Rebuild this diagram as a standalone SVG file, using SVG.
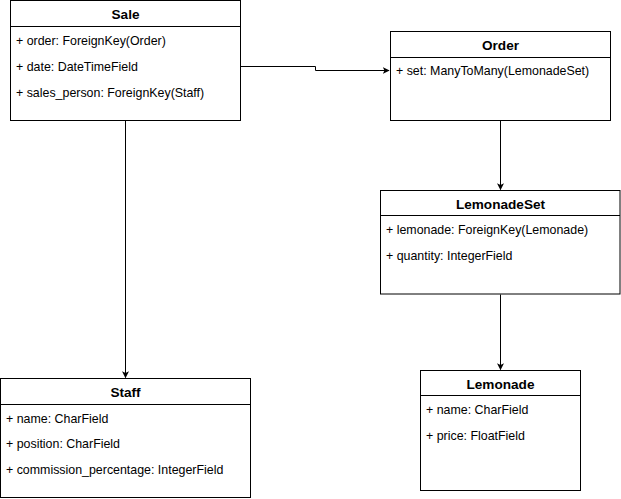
<svg xmlns="http://www.w3.org/2000/svg" width="621" height="499" viewBox="0 0 621 499">
<style>
.box{fill:#fff;stroke:#000;stroke-width:1}
.div{stroke:#000;stroke-width:1}
.t{font-family:"Liberation Sans",Arial,sans-serif;font-size:12.4px;fill:#000}
.h{font-family:"Liberation Sans",Arial,sans-serif;font-size:13.6px;font-weight:bold;fill:#000;text-anchor:middle}
.c{fill:none;stroke:#000;stroke-width:1}
</style>
<defs>
<marker id="arr" viewBox="0 0 10 10" refX="9" refY="5" markerWidth="7" markerHeight="7" markerUnits="userSpaceOnUse" orient="auto">
<path d="M0,0 L10,5 L0,10 L2.5,5 Z" fill="#000"/>
</marker>
</defs>
<rect width="621" height="499" fill="#fff"/>
<g id="connectors">
<path class="c" d="M240.5,66.5 H315.5 V70.5 H389" marker-end="url(#arr)"/>
<path class="c" d="M125.5,120.5 V377.5" marker-end="url(#arr)"/>
<path class="c" d="M500.5,120.5 V189.5" marker-end="url(#arr)"/>
<path class="c" d="M500.5,294.5 V369.5" marker-end="url(#arr)"/>
</g>
<g id="Sale">
<rect class="box" x="10.5" y="0.5" width="230" height="120"/>
<line class="div" x1="10.5" y1="26.5" x2="240.5" y2="26.5"/>
<text class="h" x="125.5" y="19">Sale</text>
<text class="t" x="16" y="45">+ order: ForeignKey(Order)</text>
<text class="t" x="16" y="71">+ date: DateTimeField</text>
<text class="t" x="16" y="97">+ sales_person: ForeignKey(Staff)</text>
</g>
<g id="Order">
<rect class="box" x="390.5" y="31.5" width="220" height="89"/>
<line class="div" x1="390.5" y1="57.5" x2="610.5" y2="57.5"/>
<text class="h" x="500.5" y="50">Order</text>
<text class="t" x="396" y="75">+ set: ManyToMany(LemonadeSet)</text>
</g>
<g id="LemonadeSet">
<rect class="box" x="380.5" y="190.5" width="239.5" height="103.5"/>
<line class="div" x1="380.5" y1="215.5" x2="620" y2="215.5"/>
<text class="h" x="500.5" y="209">LemonadeSet</text>
<text class="t" x="386" y="234">+ lemonade: ForeignKey(Lemonade)</text>
<text class="t" x="386" y="260">+ quantity: IntegerField</text>
</g>
<g id="Staff">
<rect class="box" x="0.5" y="378.5" width="250" height="119"/>
<line class="div" x1="0.5" y1="404.5" x2="250.5" y2="404.5"/>
<text class="h" x="125.5" y="397">Staff</text>
<text class="t" x="6" y="423">+ name: CharField</text>
<text class="t" x="6" y="448">+ position: CharField</text>
<text class="t" x="6" y="474">+ commission_percentage: IntegerField</text>
</g>
<g id="Lemonade">
<rect class="box" x="420.5" y="370.5" width="160" height="120"/>
<line class="div" x1="420.5" y1="395.5" x2="580.5" y2="395.5"/>
<text class="h" x="500.5" y="389">Lemonade</text>
<text class="t" x="426" y="414">+ name: CharField</text>
<text class="t" x="426" y="440">+ price: FloatField</text>
</g>
</svg>
